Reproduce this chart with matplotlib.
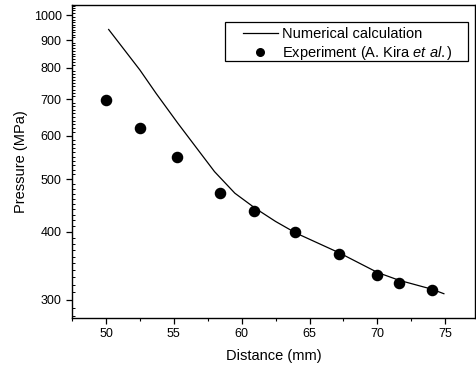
import numpy as np
import matplotlib
matplotlib.use("Agg")
import matplotlib.pyplot as plt
from matplotlib.patches import Rectangle
from matplotlib.ticker import FixedLocator, MultipleLocator, FuncFormatter, NullFormatter

plt.rcParams["font.family"] = ["Liberation Sans", "DejaVu Sans"]
plt.rcParams["mathtext.fontset"] = "custom"
plt.rcParams["mathtext.rm"] = "Liberation Sans"
plt.rcParams["mathtext.it"] = "Liberation Sans:italic"

# Numerical calculation (solid line)
calc_dist = [50.2, 52.5, 53.7, 55.3, 56.8, 58.0, 59.5, 61.0, 62.5, 64.0, 67.2, 70.0, 71.6, 74.0, 74.9]
calc_pres = [941, 793, 718, 633, 565, 516, 471, 442, 418, 398, 366, 337, 326, 314, 308]

# Experiment (A. Kira et al.)
exp_dist = [50.0, 52.5, 55.2, 58.4, 60.9, 63.9, 67.2, 70.0, 71.6, 74.0]
exp_pres = [698, 620, 550, 471, 437, 399, 365, 333, 322, 313]

x_ticks = [50, 55, 60, 65, 70, 75]
y_ticks = [300, 400, 500, 600, 700, 800, 900, 1000]

fig = plt.figure(figsize=(4.77, 3.68), dpi=100)
ax = fig.add_axes([0.151, 0.136, 0.845, 0.850])

ax.plot(calc_dist, calc_pres, color="black", lw=0.9, label="Numerical calculation")
ax.plot(exp_dist, exp_pres, "o", color="black", ms=7.3, label=r"Experiment (A. Kira $et\ al.$)")

ax.set_yscale("log")
ax.set_xlim(47.5, 77.2)
ax.set_ylim(278, 1043)

ax.xaxis.set_major_locator(FixedLocator(x_ticks))
ax.xaxis.set_minor_locator(MultipleLocator(2.5))
ax.yaxis.set_major_locator(FixedLocator(y_ticks))
ax.yaxis.set_major_formatter(FuncFormatter(lambda v, p: f"{v:.0f}"))
ax.yaxis.set_minor_locator(FixedLocator(np.arange(270, 1050, 10)))
ax.yaxis.set_minor_formatter(NullFormatter())

ax.tick_params(axis="both", which="major", direction="out", length=4, width=0.9, labelsize=9)
ax.tick_params(axis="x", which="minor", direction="out", length=2.5, width=0.8)
ax.tick_params(axis="y", which="minor", direction="in", length=2.5, width=0.7)
ax.tick_params(top=False, right=False)

for s in ax.spines.values():
    s.set_linewidth(1.0)

ax.set_xlabel("Distance (mm)", fontsize=10.5, labelpad=6)
ax.set_ylabel("Pressure (MPa)", fontsize=10.5, labelpad=4)

# legend text without frame, frame drawn as a box behind it
leg = ax.legend(loc="upper left", bbox_to_anchor=(0.424, 0.93), fontsize=10.5,
                frameon=False, handlelength=2.4, handletextpad=0.3, markerscale=0.75,
                borderpad=0, labelspacing=0.18, borderaxespad=0)
ax.add_patch(Rectangle((0.380, 0.821), 0.603, 0.125, transform=ax.transAxes,
                       fill=False, edgecolor="black", lw=0.9, zorder=5))

fig.savefig("out.png", dpi=100)
